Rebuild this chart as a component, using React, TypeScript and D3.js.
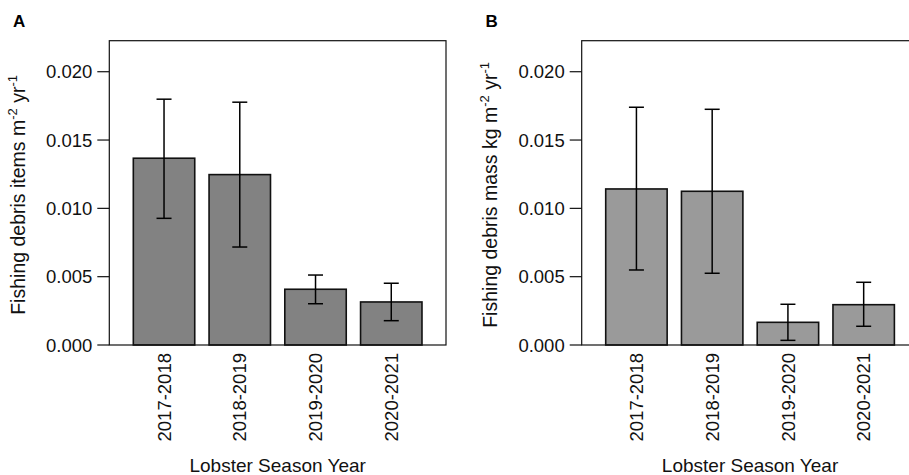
import React from 'react';
import { scaleBand, scaleLinear, format } from 'd3';

const seasons = ["2017-2018", "2018-2019", "2019-2020", "2020-2021"];

// panel A: fishing debris items
const itemsMean = [0.01367, 0.01247, 0.00408, 0.00315];
const itemsLow = [0.00927, 0.00717, 0.00302, 0.00178];
const itemsHigh = [0.01799, 0.01777, 0.00512, 0.00452];

// panel B: fishing debris mass
const massMean = [0.01142, 0.01125, 0.00166, 0.00295];
const massLow = [0.00549, 0.00525, 0.00034, 0.00137];
const massHigh = [0.0174, 0.01725, 0.00298, 0.00459];

const yTicks = [0, 0.005, 0.01, 0.015, 0.02];

const FONT = "'Liberation Sans', Arial, Helvetica, sans-serif";
const FS = 18.5;

type PanelProps = {
    dx: number;
    letter: string;
    titleMain: string;
    fill: string;
    mean: number[];
    low: number[];
    high: number[];
};

const Panel = ({ dx, letter, titleMain, fill, mean, low, high }: PanelProps) => {
    const left = 109.3, right = 446, top = 40.7, bottom = 345;

    const x = scaleBand<string>()
        .domain(seasons)
        .range([left, right])
        .paddingInner(0.189)
        .paddingOuter(0.317);

    const y = scaleLinear()
        .domain([0, 0.02227])
        .range([bottom, top]);

    const fmt = format(".3f");
    const cap = 7.5;

    return (
        <g transform={`translate(${dx},0)`}>
            <text x={13} y={27} fontSize={17} fontWeight="bold" fontFamily={FONT}>{letter}</text>

            {seasons.map((s, i) => (
                <rect key={s}
                    x={x(s)} y={y(mean[i])}
                    width={x.bandwidth()} height={bottom - y(mean[i])}
                    fill={fill} stroke="#111" strokeWidth={1.6} />
            ))}

            {seasons.map((s, i) => {
                const cx = (x(s) as number) + x.bandwidth() / 2;
                return (
                    <g key={s} stroke="#000" strokeWidth={1.5}>
                        <line x1={cx} x2={cx} y1={y(low[i])} y2={y(high[i])} />
                        <line x1={cx - cap} x2={cx + cap} y1={y(high[i])} y2={y(high[i])} />
                        <line x1={cx - cap} x2={cx + cap} y1={y(low[i])} y2={y(low[i])} />
                    </g>
                );
            })}

            <rect x={left} y={top} width={right - left} height={bottom - top}
                fill="none" stroke="#111" strokeWidth={1.2} />

            {yTicks.map((t) => (
                <g key={t}>
                    <line x1={left - 12} x2={left} y1={y(t)} y2={y(t)} stroke="#111" strokeWidth={1.2} />
                    <text x={left - 17} y={y(t)} dy="0.36em" textAnchor="end"
                        fontSize={FS} fontFamily={FONT} fill="#111">{fmt(t)}</text>
                </g>
            ))}

            {seasons.map((s) => {
                const cx = (x(s) as number) + x.bandwidth() / 2;
                return (
                    <text key={s} transform={`translate(${cx},353) rotate(-90)`} dy="0.36em"
                        textAnchor="end" fontSize={FS} fontFamily={FONT} fill="#111">{s}</text>
                );
            })}

            <text x={(left + right) / 2} y={472} textAnchor="middle"
                fontSize={FS + 0.5} fontFamily={FONT} fill="#111">Lobster Season Year</text>

            <text transform={`translate(25,${(top + bottom) / 2 + 2}) rotate(-90)`} textAnchor="middle"
                fontSize={19.5} fontFamily={FONT} fill="#111">
                {titleMain} m
                <tspan dy={-8} fontSize={13}>-2</tspan>
                <tspan dy={8}> yr</tspan>
                <tspan dy={-8} fontSize={13}>-1</tspan>
            </text>
        </g>
    );
};

export default function App() {
    return (
        <svg width={909} height={475} style={{ position: 'absolute', left: 0, top: 0, background: '#fff' }}>
            <Panel dx={0} letter="A" titleMain="Fishing debris items" fill="#828282"
                mean={itemsMean} low={itemsLow} high={itemsHigh} />
            <Panel dx={472.4} letter="B" titleMain="Fishing debris mass kg" fill="#9a9a9a"
                mean={massMean} low={massLow} high={massHigh} />
        </svg>
    );
}
